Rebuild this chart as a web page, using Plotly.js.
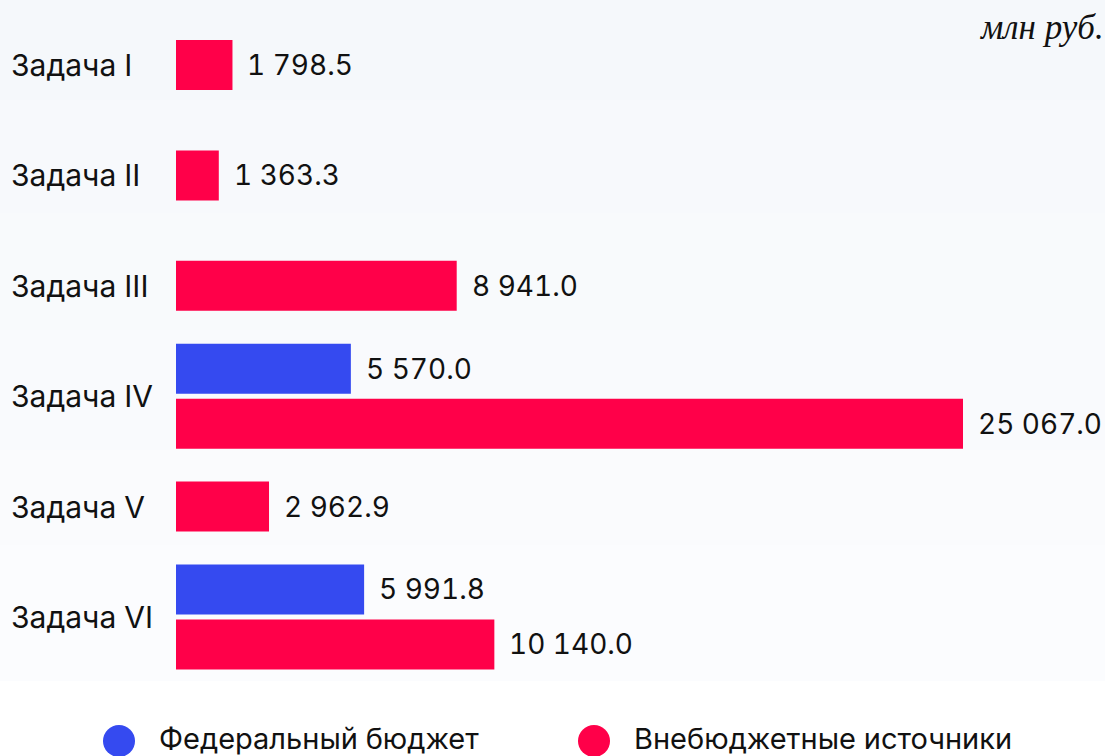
<!DOCTYPE html>
<html>
<head>
<meta charset="utf-8">
<script src="https://cdn.plot.ly/plotly-3.0.1.min.js"></script>
<style>
  html, body { margin: 0; padding: 0; }
  body {
    width: 1105px; height: 756px; overflow: hidden;
    background: linear-gradient(to bottom,
      #f5f8fb 0px, #f5f8fb 100px,
      #f7f9fc 100px, #f7f9fc 213px,
      #f8fafc 213px, #f8fafc 330px,
      #f9fafd 330px, #f9fafd 450px,
      #fafbfd 450px, #fafbfd 545px,
      #fbfcfe 545px, #fbfcfe 681px,
      #ffffff 681px, #ffffff 756px);
  }
  #chart { width: 1105px; height: 756px; }
  text { font-variant-numeric: tabular-nums; font-feature-settings: "tnum" 1; }
</style>
</head>
<body>
<div id="chart"></div>
<script>
// ---- data ----
const categories = ["Задача I", "Задача II", "Задача III", "Задача IV", "Задача V", "Задача VI"];
const federal = [null, null, null, 5570.0, null, 5991.8];
const offBudget = [1798.5, 1363.3, 8941.0, 25067.0, 2962.9, 10140.0];
const seriesNames = ["Федеральный бюджет", "Внебюджетные источники"];
const unitLabel = "млн руб.";

// ---- styling ----
const BLUE = "#354af0";
const RED = "#ff0049";
const TEXT = "#111111";
const FONT = "Inter, 'Noto Sans', sans-serif";
const barW = 0.453;   // bar thickness in category units
const gap = 0.045;    // gap between paired bars

function fmt(v) {
  const s = v.toFixed(1);
  const [ip, dp] = s.split(".");
  return ip.replace(/\B(?=(\d{3})+(?!\d))/g, " ") + "." + dp;
}

const hasPair = categories.map((c, i) => federal[i] != null && offBudget[i] != null);
const blueOffset = categories.map(() => -(barW + gap / 2));
const redOffset = categories.map((c, i) => hasPair[i] ? gap / 2 : -barW / 2);
const widths = categories.map(() => barW);

const traces = [
  {
    type: "bar", orientation: "h", name: seriesNames[0],
    y: categories, x: federal,
    width: widths, offset: blueOffset,
    marker: { color: BLUE }, hoverinfo: "x+y", showlegend: false
  },
  {
    type: "bar", orientation: "h", name: seriesNames[1],
    y: categories, x: offBudget,
    width: widths, offset: redOffset,
    marker: { color: RED }, hoverinfo: "x+y", showlegend: false
  }
];

const PW = 929, PH = 681, L = 176;
const annotations = [];
// category labels
categories.forEach((c, i) => {
  annotations.push({
    xref: "paper", yref: "y", x: (9 - L) / PW, y: i,
    xanchor: "left", yanchor: "middle", showarrow: false,
    text: c, font: { family: FONT, size: 30, color: TEXT }
  });
});
// value labels
categories.forEach((c, i) => {
  if (federal[i] != null) {
    annotations.push({
      xref: "x", yref: "y", x: federal[i], y: i + blueOffset[i] + barW / 2,
      xanchor: "left", yanchor: "middle", xshift: 13, showarrow: false,
      text: fmt(federal[i]), font: { family: FONT, size: 28, color: TEXT }
    });
  }
  if (offBudget[i] != null) {
    annotations.push({
      xref: "x", yref: "y", x: offBudget[i], y: i + redOffset[i] + barW / 2,
      xanchor: "left", yanchor: "middle", xshift: 13, showarrow: false,
      text: fmt(offBudget[i]), font: { family: FONT, size: 28, color: TEXT }
    });
  }
});
// unit label
annotations.push({
  xref: "paper", yref: "paper", x: 1, y: 1, xanchor: "right", yanchor: "top",
  xshift: 1, yshift: -6, showarrow: false,
  text: "<i>" + unitLabel + "</i>",
  font: { family: "'Liberation Serif', 'DejaVu Serif', serif", size: 35, color: TEXT }
});

// legend (custom, circles + text)
const legendItems = [
  { name: seriesNames[0], color: BLUE, cx: 119, tx: 157 },
  { name: seriesNames[1], color: RED, cx: 594, tx: 632 }
];
const shapes = [];
legendItems.forEach(it => {
  const r = 16, cy = 741;
  shapes.push({
    type: "circle", xref: "paper", yref: "paper",
    x0: (it.cx - r - L) / PW, x1: (it.cx + r - L) / PW,
    y0: (PH - (cy + r)) / PH, y1: (PH - (cy - r)) / PH,
    fillcolor: it.color, line: { width: 0 }
  });
  annotations.push({
    xref: "paper", yref: "paper", x: (it.tx - L) / PW, y: (PH - 738) / PH,
    xanchor: "left", yanchor: "middle", showarrow: false,
    text: it.name, font: { family: FONT, size: 29, color: TEXT }
  });
});

const layout = {
  width: 1105, height: 756,
  margin: { l: 176, r: 0, t: 0, b: 75, pad: 0 },
  paper_bgcolor: "rgba(0,0,0,0)",
  plot_bgcolor: "rgba(0,0,0,0)",
  barmode: "overlay",
  showlegend: false,
  separators: ". ",
  xaxis: { range: [0, 29590], visible: false, fixedrange: true },
  yaxis: {
    type: "category", categoryorder: "array", categoryarray: categories,
    range: [5.58, -0.589], showticklabels: false, showgrid: false,
    zeroline: false, showline: false, ticks: "", fixedrange: true
  },
  annotations: annotations,
  shapes: shapes,
  font: { family: FONT, color: TEXT }
};

Plotly.newPlot("chart", traces, layout, { displayModeBar: false, staticPlot: true });
</script>
</body>
</html>
